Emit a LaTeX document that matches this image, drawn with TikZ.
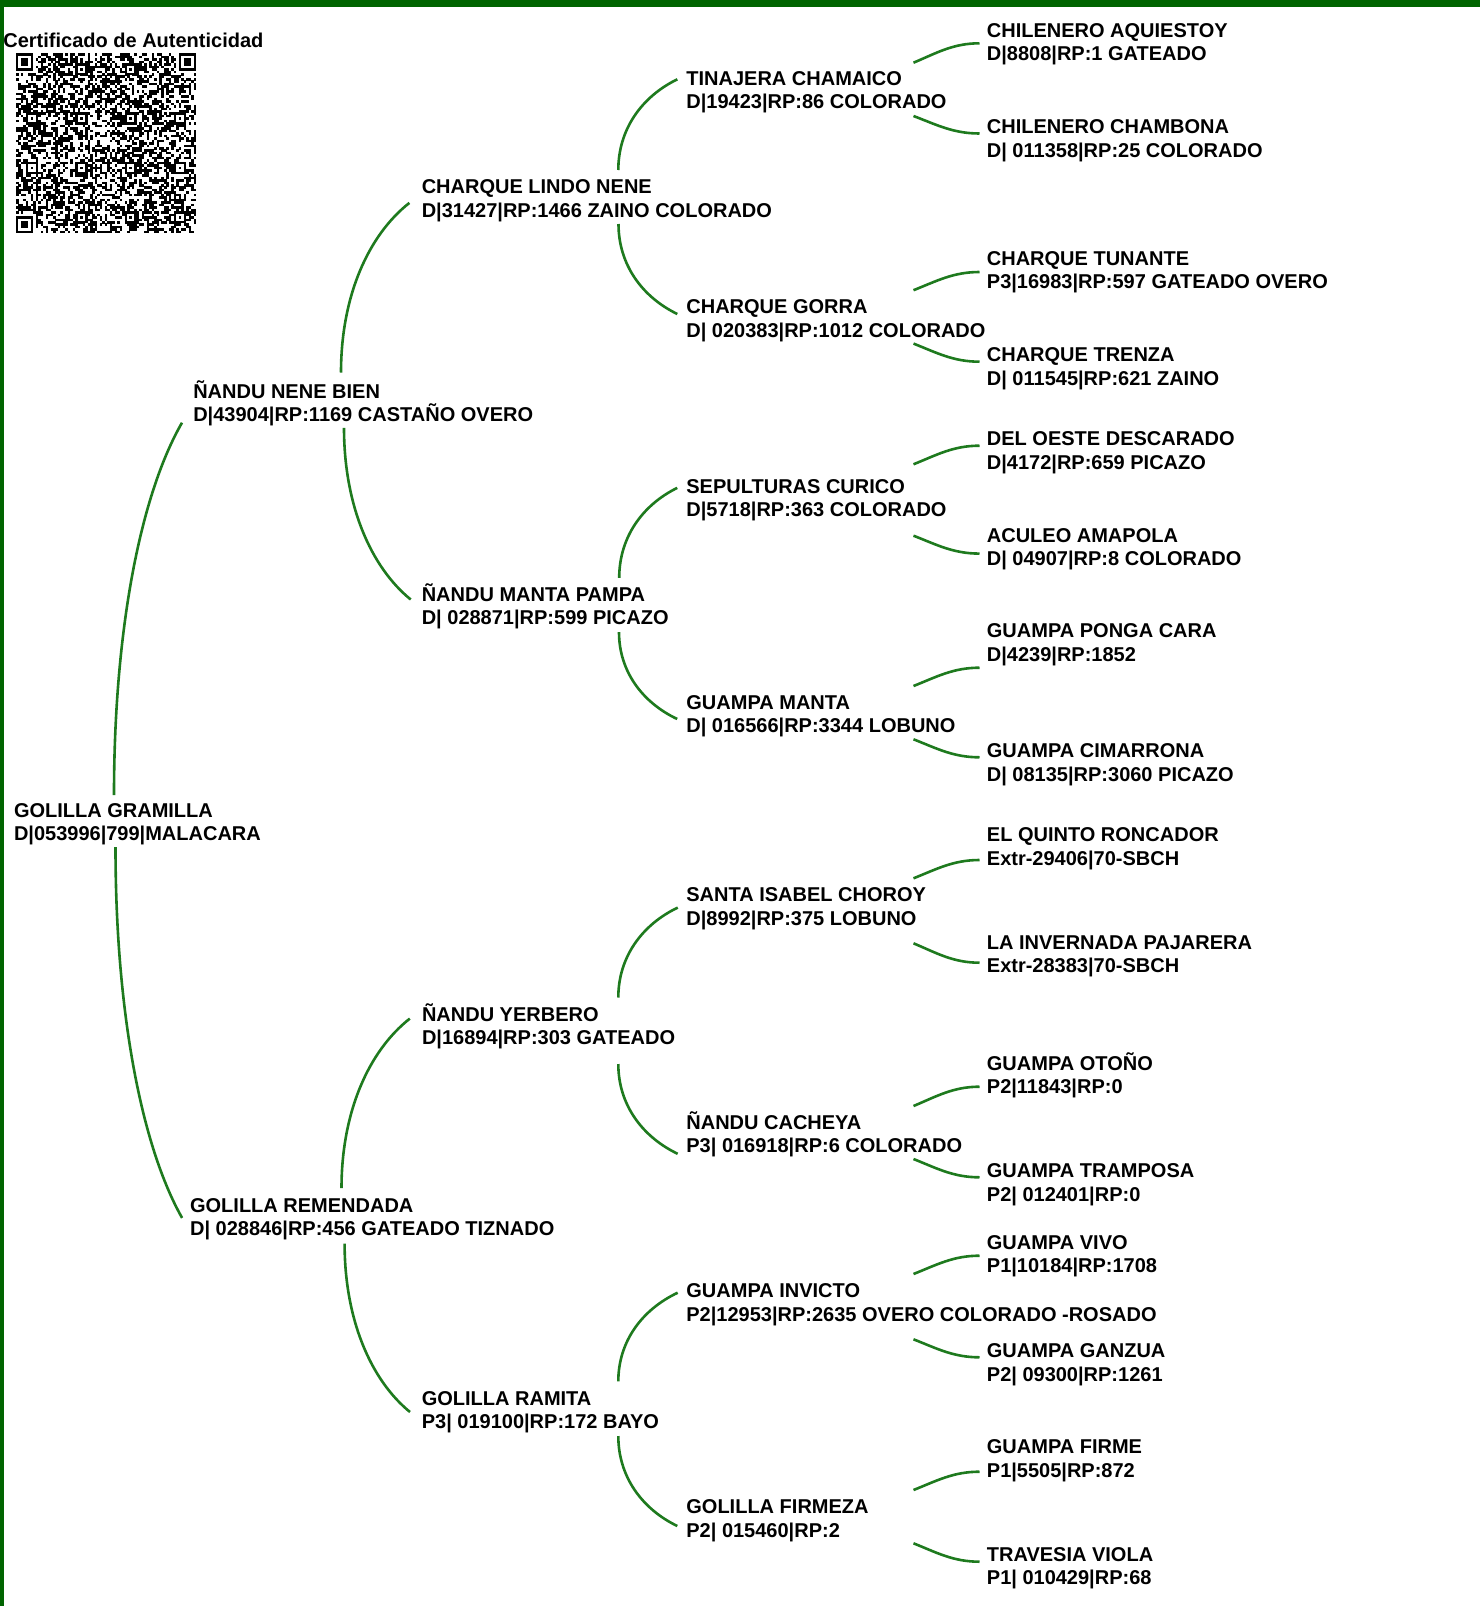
\documentclass[tikz,border=0pt]{standalone}
\usepackage{fontspec}
\setmainfont{Liberation Sans}
\usetikzlibrary{calc}
\definecolor{framegreen}{RGB}{0,100,0}
\definecolor{linkgreen}{RGB}{30,122,30}
\newcommand\horse[2]{\vtop{\lineskiplimit=-\maxdimen\hbox{#1}\hbox{#2}}}
\tikzset{
  horse/.style={anchor=base west,inner sep=0pt,font=\fontsize{10}{11.65}\selectfont\bfseries},
  link/.style={draw=linkgreen,line width=1.3pt},
}
\begin{document}
\begin{tikzpicture}[x=0.5pt,y=-0.5pt]
\useasboundingbox (0,0) rectangle (1480,1606);
\fill[framegreen] (0,0) rectangle (1480,7);
\fill[framegreen] (0,0) rectangle (4,1606);
\node[horse] (cert) at (3,47.7) {Certificado de Autenticidad};
\begin{scope}[shift={(16,53.3)},x=1.233pt,y=-1.233pt]
\pgfmathsetseed{7}
\foreach \i in {0,...,72} \foreach \j in {0,...,72} {
\pgfmathrandominteger{\q}{0}{1}
\ifnum\q=1 \fill (\i,\j) rectangle ++(1.03,1.03);\fi
}
\foreach \a/\b in {0/0,65/0,0/65} \fill[white] (\a,\b) rectangle ++(8,8);
\foreach \a/\b in {0/0,66/0,0/66} {
\fill (\a,\b) rectangle ++(7,7);
\fill[white] (\a+1,\b+1) rectangle ++(5,5);
\fill (\a+2,\b+2) rectangle ++(3,3);
}
\foreach \a/\b in {6/26,6/46,26/6,26/26,26/46,26/66,46/6,46/26,46/46,46/66,66/26,66/46,66/66} {
\fill (\a-2,\b-2) rectangle ++(5,5);
\fill[white] (\a-1,\b-1) rectangle ++(3,3);
\fill (\a,\b) rectangle ++(1,1);
}
\end{scope}
\node[horse] (r) at (13.6,817.1) {\horse{GOLILLA GRAMILLA}{D|053996|799|MALACARA}};
\node[horse] (s) at (192.9,398.4) {\horse{ÑANDU NENE BIEN}{D|43904|RP:1169 CASTAÑO OVERO}};
\node[horse] (d) at (189.7,1212.6) {\horse{GOLILLA REMENDADA}{D| 028846|RP:456 GATEADO TIZNADO}};
\node[horse] (ss) at (421.4,193.7) {\horse{CHARQUE LINDO NENE}{D|31427|RP:1466 ZAINO COLORADO}};
\node[horse] (sd) at (421.4,601.2) {\horse{ÑANDU MANTA PAMPA}{D| 028871|RP:599 PICAZO}};
\node[horse] (ds) at (421.6,1021.2) {\horse{ÑANDU YERBERO}{D|16894|RP:303 GATEADO}};
\node[horse] (dd) at (421.4,1405.1) {\horse{GOLILLA RAMITA}{P3| 019100|RP:172 BAYO}};
\node[horse] (sss) at (686,85.1) {\horse{TINAJERA CHAMAICO}{D|19423|RP:86 COLORADO}};
\node[horse] (ssd) at (686,313.7) {\horse{CHARQUE GORRA}{D| 020383|RP:1012 COLORADO}};
\node[horse] (sds) at (686,493.3) {\horse{SEPULTURAS CURICO}{D|5718|RP:363 COLORADO}};
\node[horse] (sdd) at (686,709.4) {\horse{GUAMPA MANTA}{D| 016566|RP:3344 LOBUNO}};
\node[horse] (dss) at (686,901.7) {\horse{SANTA ISABEL CHOROY}{D|8992|RP:375 LOBUNO}};
\node[horse] (dsd) at (686,1129.4) {\horse{ÑANDU CACHEYA}{P3| 016918|RP:6 COLORADO}};
\node[horse] (dds) at (686,1297.7) {\horse{GUAMPA INVICTO}{P2|12953|RP:2635 OVERO COLORADO -ROSADO}};
\node[horse] (ddd) at (686,1513.7) {\horse{GOLILLA FIRMEZA}{P2| 015460|RP:2}};
\node[horse] (ssss) at (986.5,37.1) {\horse{CHILENERO AQUIESTOY}{D|8808|RP:1 GATEADO}};
\node[horse] (sssd) at (986.5,133.7) {\horse{CHILENERO CHAMBONA}{D| 011358|RP:25 COLORADO}};
\node[horse] (ssds) at (986.5,265.1) {\horse{CHARQUE TUNANTE}{P3|16983|RP:597 GATEADO OVERO}};
\node[horse] (ssdd) at (986.5,361.7) {\horse{CHARQUE TRENZA}{D| 011545|RP:621 ZAINO}};
\node[horse] (sdss) at (986.5,445.8) {\horse{DEL OESTE DESCARADO}{D|4172|RP:659 PICAZO}};
\node[horse] (sdsd) at (986.5,542.3) {\horse{ACULEO AMAPOLA}{D| 04907|RP:8 COLORADO}};
\node[horse] (sdds) at (986.5,637.7) {\horse{GUAMPA PONGA CARA}{D|4239|RP:1852}};
\node[horse] (sddd) at (986.5,757.7) {\horse{GUAMPA CIMARRONA}{D| 08135|RP:3060 PICAZO}};
\node[horse] (dsss) at (986.5,841.7) {\horse{EL QUINTO RONCADOR}{Extr-29406|70-SBCH}};
\node[horse] (dssd) at (986.5,949.4) {\horse{LA INVERNADA PAJARERA}{Extr-28383|70-SBCH}};
\node[horse] (dsds) at (986.5,1070.4) {\horse{GUAMPA OTOÑO}{P2|11843|RP:0}};
\node[horse] (dsdd) at (986.5,1177.7) {\horse{GUAMPA TRAMPOSA}{P2| 012401|RP:0}};
\node[horse] (ddss) at (986.5,1249.4) {\horse{GUAMPA VIVO}{P1|10184|RP:1708}};
\node[horse] (ddsd) at (986.5,1357.7) {\horse{GUAMPA GANZUA}{P2| 09300|RP:1261}};
\node[horse] (ddds) at (986.5,1453.7) {\horse{GUAMPA FIRME}{P1|5505|RP:872}};
\node[horse] (dddd) at (986.5,1561.1) {\horse{TRAVESIA VIOLA}{P1| 010429|RP:68}};
\foreach \pa/\ch/\sx/\sy/\ex/\ey in {r/s/100.4/-22.1/-10.9/24.3,r/d/101.9/29.9/-7.6/5.3,
s/ss/148.1/-25.9/-12/9.2,s/sd/151.1/29.4/-10.7/-1.7,d/ds/151.8/-24.4/-11.8/-2.6,d/dd/154.9/31/-11.4/6.9,
ss/sss/196.9/-23.7/-8.7/-5.8,ss/ssd/197.1/30.3/-8.7/0.3,sd/sds/197.8/-23.3/-8.8/-5.4,sd/sdd/197.6/30.9/-8.8/9.6,
ds/dss/196.7/-23.7/-8.3/5.9,ds/dsd/196.7/42.8/-8.3/24.4,dd/dds/196.9/-23.8/-8.3/-5,dd/ddd/196.9/30.9/-8.7/12.3} {
\draw[link] let \p1=([shift={(\sx,\sy)}]\pa.base west), \p2=([shift={(\ex,\ey)}]\ch.base west) in
(\p1) .. controls (\x1,{\y1+0.45*(\y2-\y1)}) and ({\x2-0.6*(\x2-\x1)},{\y2-0.19*(\y2-\y1)}) .. (\p2);
}
\foreach \pa/\ch/\sy/\ey in {sss/ssss/-22.4/6.2,sss/sssd/30.9/-0.2,ssd/ssds/-23.5/6.9,ssd/ssdd/29.9/0,
sds/sdss/-29/-0.1,sds/sdsd/42.4/11.3,sdd/sdds/-23.4/30,sdd/sddd/29.9/-0.4,
dss/dsss/-23.4/18.3,dss/dssd/41.6/13.3,dsd/dsds/-23.4/16.3,dsd/dsdd/29.6/-0.4,
dds/ddss/-23.7/6.3,dds/ddsd/41.6/-0.4,ddd/ddds/-23.7/18,ddd/dddd/29.6/0.6} {
\draw[link] let \p1=([shift={(227.5,\sy)}]\pa.base west), \p2=([shift={(-7,\ey)}]\ch.base west) in
(\p1) .. controls ({\x1+0.35*(\x2-\x1)},{\y1+0.5*(\y2-\y1)}) and ({\x2-0.4*(\x2-\x1)},\y2) .. (\p2);
}
\end{tikzpicture}
\end{document}
